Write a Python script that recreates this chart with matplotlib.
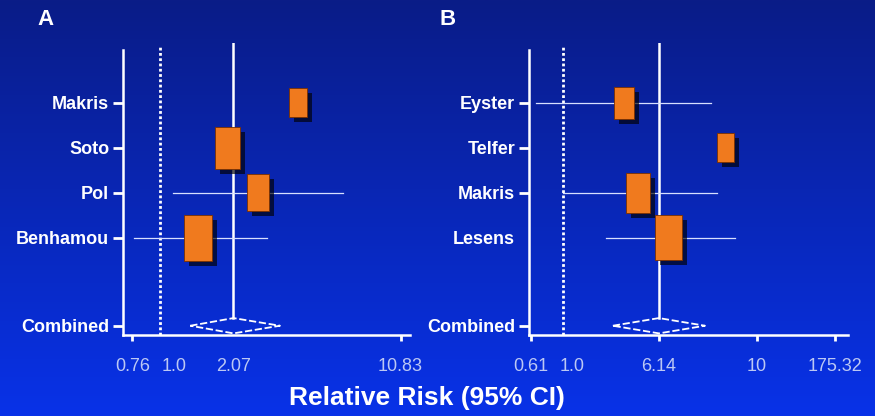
import numpy as np
import matplotlib
matplotlib.use("Agg")
import matplotlib.pyplot as plt
from matplotlib.path import Path
from matplotlib.transforms import ScaledTranslation

plt.rcParams['font.family'] = ['Liberation Sans', 'DejaVu Sans']

# panel A data (relative risk, 95% CI, weight)
a_names = ['Makris', 'Soto', 'Pol', 'Benhamou']
a_rr = [3.92, 1.95, 2.64, 1.46]
a_lo = [np.nan, np.nan, 1.14, 0.77]
a_hi = [np.nan, np.nan, 6.12, 2.88]
a_weight = [29, 42, 37, 46]
a_comb = [2.07, 1.35, 3.28]
a_ticks = [0.76, 1.0, 2.07, 10.83]
a_ticklabels = ['0.76', '1.0', '2.07', '10.83']

# panel B data
b_names = ['Eyster', 'Telfer', 'Makris', 'Lesens']
b_rr = [3.17, 8.55, 4.17, 6.44]
b_lo = [0.66, np.nan, 1.0, 2.25]
b_hi = [7.96, np.nan, 8.20, 8.96]
b_weight = [32, 29, 40, 45]
b_comb = [6.14, 2.57, 7.72]
b_ticks = [0.61, 1.0, 6.14, 10, 175.32]
b_ticklabels = ['0.61', '1.0', '6.14', '10', '175.32']


def piecewise_scale(ticks, pos):
    lt = np.log(np.asarray(ticks, float))
    pos = np.asarray(pos, float)
    s0 = (pos[1] - pos[0]) / (lt[1] - lt[0])
    s1 = (pos[-1] - pos[-2]) / (lt[-1] - lt[-2])

    def fwd(x):
        lx = np.log(np.clip(x, 1e-9, None))
        y = np.interp(lx, lt, pos)
        y = np.where(lx < lt[0], pos[0] + (lx - lt[0]) * s0, y)
        y = np.where(lx > lt[-1], pos[-1] + (lx - lt[-1]) * s1, y)
        return y

    def inv(y):
        lx = np.interp(y, pos, lt)
        lx = np.where(y < pos[0], lt[0] + (y - pos[0]) / s0, lx)
        lx = np.where(y > pos[-1], lt[-1] + (y - pos[-1]) / s1, lx)
        return np.exp(lx)

    return fwd, inv


fig = plt.figure(figsize=(8.75, 4.16), dpi=100)

# background gradient
bg = fig.add_axes([0, 0, 1, 1], zorder=-10)
top = np.array([10, 28, 135]) / 255
bot = np.array([8, 50, 232]) / 255
t = np.linspace(0, 1, 256)[:, None]
grad = top[None, :] * (1 - t) + bot[None, :] * t
bg.imshow(grad[:, None, :], aspect='auto', extent=[0, 1, 0, 1])
bg.axis('off')

rect = Path([(-0.3, -0.5), (0.3, -0.5), (0.3, 0.5), (-0.3, 0.5), (-0.3, -0.5)],
            [Path.MOVETO, Path.LINETO, Path.LINETO, Path.LINETO, Path.CLOSEPOLY])

ylim = (5.156, -1.333)
comb_row = 4.95


def draw_panel(ax, names, rr, lo, hi, weight, comb, ticks, ticklabels, pos, xlim,
               hide_ticks, shift, letter, letter_x):
    fwd, inv = piecewise_scale(ticks, pos)
    ax.set_xscale('function', functions=(fwd, inv))
    ax.set_xlim(*xlim)
    ax.set_ylim(*ylim)
    ax.patch.set_alpha(0)
    rows = np.arange(len(names))

    # reference lines
    ax.plot([1.0, 1.0], [ylim[0], -1.244], color='white', lw=2.0,
            linestyle=(0, (1, 0.9)), zorder=2)
    ax.plot([comb[0], comb[0]], [comb_row - 0.17, ylim[1]], color='white', lw=1.8, zorder=2)

    # CI lines
    for r, l, h in zip(rows, lo, hi):
        if not np.isnan(l):
            ax.plot([l, h], [r, r], color='#d8e0ff', lw=0.9, zorder=3)

    sizes = (np.asarray(weight) * 0.72) ** 2
    shadow = ax.transData + ScaledTranslation(5 / 100, -5 / 100, fig.dpi_scale_trans)
    ax.scatter(rr, rows, s=sizes, marker=rect, color='black', alpha=0.65,
               linewidths=0, transform=shadow, zorder=4)
    ax.scatter(rr, rows, s=sizes, marker=rect, facecolor='#f07a1e',
               edgecolor='#7a3000', linewidths=0.6, zorder=5)

    # combined diamond
    dx = [comb[1], comb[0], comb[2], comb[0], comb[1]]
    dy = [comb_row, comb_row - 0.17, comb_row, comb_row + 0.17, comb_row]
    ax.plot(dx, dy, color='white', lw=1.3, linestyle=(0, (4, 1.5)), zorder=6)

    ax.set_yticks(list(rows) + [comb_row])
    ax.set_yticklabels(names + ['Combined'], color='white', fontsize=13,
                       fontweight='bold')
    ax.set_xticks(ticks)
    ax.set_xticklabels(ticklabels, color='#bcc8f4', fontsize=13)
    ax.xaxis.set_minor_locator(matplotlib.ticker.NullLocator())
    ax.tick_params(axis='y', length=7, width=2, color='white', pad=3)
    ax.tick_params(axis='x', length=4.5, width=2, color='white', pad=12)
    for i in hide_ticks:
        ax.xaxis.get_major_ticks()[i].tick1line.set_visible(False)
    # the "1.0" label sits a little right of its line in the original
    lab = ax.xaxis.get_major_ticks()[1].label1
    lab.set_transform(lab.get_transform() + ScaledTranslation(shift / 100, 0, fig.dpi_scale_trans))

    for side in ['top', 'right']:
        ax.spines[side].set_visible(False)
    for side in ['left', 'bottom']:
        ax.spines[side].set_color('white')
        ax.spines[side].set_linewidth(1.8)
    ax.spines['left'].set_bounds(ylim[0], -1.178)

    fig.text(letter_x, 0.952, letter, color='white', fontsize=16,
             fontweight='bold', ha='center', va='center')


axA = fig.add_axes([123 / 875, 1 - 335 / 416, 287 / 875, 292 / 416])
draw_panel(axA, a_names, a_rr, a_lo, a_hi, a_weight, a_comb, a_ticks, a_ticklabels,
           np.log(a_ticks), (0.693, 11.89), [1, 2], 14, 'A', 46 / 875)

axB = fig.add_axes([529 / 875, 1 - 335 / 416, 319 / 875, 292 / 416])
draw_panel(axB, b_names, b_rr, b_lo, b_hi, b_weight, b_comb, b_ticks, b_ticklabels,
           [0, 32, 128, 226, 304], (0.592, 283), [1], 9, 'B', 448 / 875)
axB.yaxis.get_major_ticks()[3].tick1line.set_visible(False)

fig.text(427 / 875, 1 - 398 / 416, 'Relative Risk (95% CI)', color='white',
         fontsize=19, fontweight='bold', ha='center', va='center')

fig.savefig('out.png', dpi=100, facecolor=fig.get_facecolor())
